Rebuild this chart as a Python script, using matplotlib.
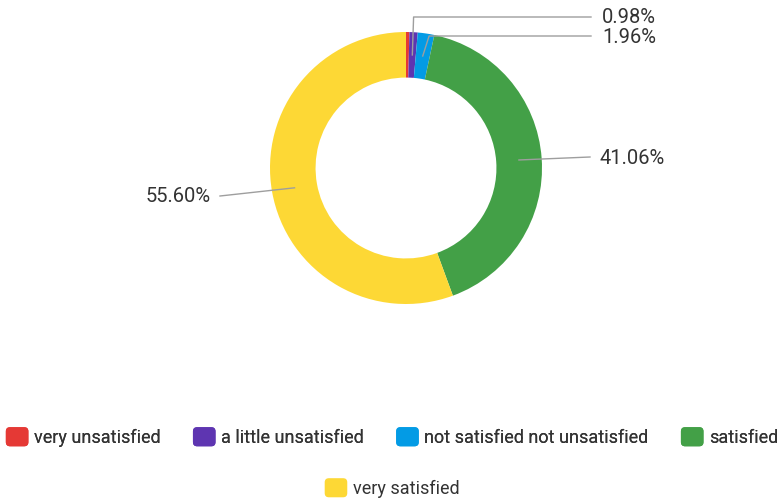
import matplotlib.pyplot as plt
from matplotlib.patches import Patch, FancyBboxPatch
from matplotlib.legend_handler import HandlerPatch
import numpy as np

plt.rcParams['font.family'] = ['Roboto', 'DejaVu Sans']

categories = ["very unsatisfied", "a little unsatisfied", "not satisfied not unsatisfied",
              "satisfied", "very satisfied"]
shares = [0.40, 0.98, 1.96, 41.06, 55.60]
colors = ["#e53935", "#5e35b1", "#039be5", "#43a047", "#fdd835"]
shown = [False, True, True, True, True]

fig = plt.figure(figsize=(7.84, 5.01), dpi=100)
ax = fig.add_axes([0, 0, 1, 1])

cx, cy, R = 406, 333, 136
width = 0.335 * R
wedges, _ = ax.pie(shares, colors=colors, startangle=90, counterclock=False,
                   center=(cx, cy), radius=R, frame=True,
                   wedgeprops=dict(width=width, linewidth=0))
ax.set_xlim(0, 784)
ax.set_ylim(0, 501)
ax.set_aspect('equal')
ax.axis('off')

# leader lines start in the middle of the ring
rmid = R - width / 2
line_col = "#9e9e9e"
txt_col = "#333333"
fs = 14.5

# elbow y (or None), line end, text pos, alignment
label_layout = {
    1: [484, (591, 484), (602, 484), 'left'],
    2: [465, (591, 465), (602, 464), 'left'],
    3: [None, (590, 344), (600, 343), 'left'],
    4: [None, (220, 305), (211, 305), 'right'],
}
for i, w in enumerate(wedges):
    if not shown[i]:
        continue
    ang = np.deg2rad((w.theta1 + w.theta2) / 2)
    x0, y0 = cx + rmid * np.cos(ang), cy + rmid * np.sin(ang)
    elbow, end, tpos, ha = label_layout[i]
    if elbow is not None:
        xo = cx + R * np.cos(ang)
        ex = xo + 3 if i == 2 else xo
        xs = [x0, ex, end[0]]
        ys = [y0, elbow, end[1]]
    else:
        xs = [x0, end[0]]
        ys = [y0, end[1]]
    ax.plot(xs, ys, color=line_col, lw=1)
    ax.text(tpos[0], tpos[1], f"{shares[i]:.2f}%", ha=ha, va='center',
            fontsize=fs, color=txt_col)


class RoundSquare(HandlerPatch):
    def create_artists(self, legend, orig_handle, xdescent, ydescent,
                       width, height, fontsize, trans):
        p = FancyBboxPatch((-xdescent, -ydescent), width, height,
                           boxstyle="round,pad=0,rounding_size=3",
                           facecolor=orig_handle.get_facecolor(), edgecolor='none',
                           transform=trans)
        return [p]


def handles(idx):
    return [Patch(facecolor=colors[k]) for k in idx]

leg_kw = dict(loc='center', frameon=False, fontsize=13, handlelength=1.25,
              handleheight=1.25, handletextpad=0.3, labelcolor=txt_col,
              handler_map={Patch: RoundSquare()})
leg1 = fig.legend(handles([0, 1, 2, 3]), categories[:4],
                  bbox_to_anchor=(0.5, 1 - 437 / 501), ncol=4,
                  columnspacing=1.8, **leg_kw)
fig.legend(handles([4]), categories[4:],
           bbox_to_anchor=(0.5, 1 - 488 / 501), ncol=1, **leg_kw)
fig.add_artist(leg1)

fig.savefig("out.png", dpi=100)
